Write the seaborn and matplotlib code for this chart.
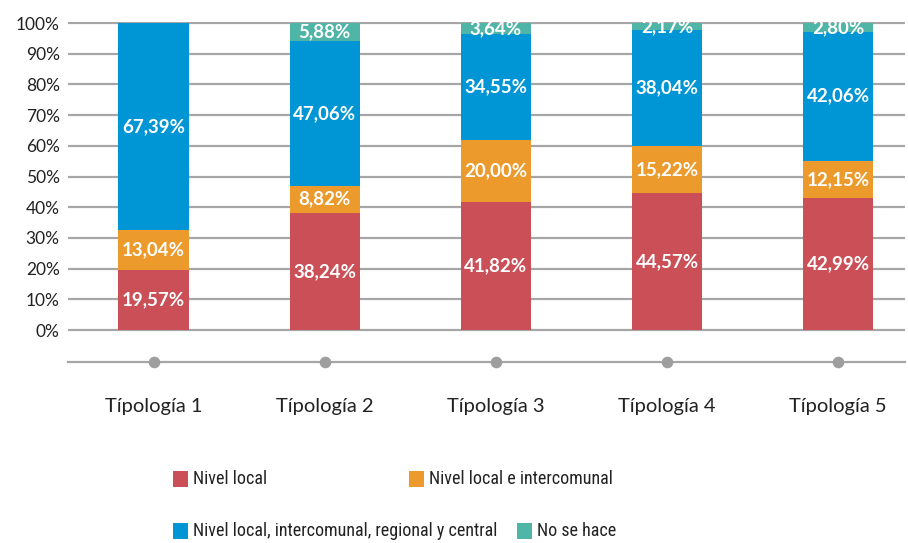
import numpy as np
import pandas as pd
import matplotlib
matplotlib.use("Agg")
import matplotlib.pyplot as plt
from matplotlib.patches import Rectangle
from matplotlib import font_manager
import seaborn as sns

# Data
categories = ["Típología 1", "Típología 2", "Típología 3", "Típología 4", "Típología 5"]
series_names = [
    "Nivel local",
    "Nivel local e intercomunal",
    "Nivel local, intercomunal, regional y central",
    "No se hace",
]
nivel_local = [19.57, 38.24, 41.82, 44.57, 42.99]
nivel_intercomunal = [13.04, 8.82, 20.00, 15.22, 12.15]
nivel_central = [67.39, 47.06, 34.55, 38.04, 42.06]
no_se_hace = [0.00, 5.88, 3.64, 2.17, 2.80]
y_ticks = [0, 10, 20, 30, 40, 50, 60, 70, 80, 90, 100]

series_values = [nivel_local, nivel_intercomunal, nivel_central, no_se_hace]
colors = ["#CB4F57", "#EC9A2B", "#0096D6", "#4EB5A7"]

sns.set_theme(style="white")
plt.rcParams["font.family"] = ["Lato", "DejaVu Sans"]

# A narrow face for the legend when one is available
installed = {f.name for f in font_manager.fontManager.ttflist}
legend_family, legend_size = ["Lato"], 12.5
for cand in ["Liberation Sans Narrow", "Roboto Condensed", "Open Sans Condensed"]:
    if cand in installed:
        legend_family, legend_size = [cand, "Lato"], 13
        break

W, H = 908, 543
fig = plt.figure(figsize=(W / 100, H / 100), dpi=100)
ax = fig.add_axes([68 / W, (H - 362) / H, (905 - 68) / W, (362 - 21.5) / H])

grid_color = "#A6A6A6"
text_color = "#222222"

df = pd.DataFrame({"categoria": categories})
bottom = np.zeros(len(categories))
for name, vals, col in zip(series_names, series_values, colors):
    df["valor"] = vals
    sns.barplot(data=df, x="categoria", y="valor", color=col, saturation=1,
                width=0.41, bottom=bottom.copy(), errorbar=None, ax=ax,
                zorder=3, linewidth=0)
    cont = ax.containers[-1]
    labels = [f"{v:.2f}".replace(".", ",") + "%" if v > 0 else "" for v in vals]
    ax.bar_label(cont, labels=labels, label_type="center", color="white",
                 fontsize=13.5, fontweight="bold", zorder=4)
    bottom += np.array(vals)

ax.set_ylim(-10.4, 100.5)
ax.set_xlim(-0.5, 4.39)

# Horizontal gridlines at each tick
ax.set_yticks(y_ticks)
ax.set_yticklabels([f"{t}%" for t in y_ticks])
ax.yaxis.grid(True, color=grid_color, linewidth=1.6, zorder=0)
ax.xaxis.grid(False)
ax.set_axisbelow(True)

for s in ["top", "right", "left"]:
    ax.spines[s].set_visible(False)
ax.spines["bottom"].set_color(grid_color)
ax.spines["bottom"].set_linewidth(1.6)

# Dots on the category axis
ax.scatter(np.arange(len(categories)), [-10.4] * len(categories), s=70,
           color="#9E9E9E", zorder=5, clip_on=False, linewidths=0)

ax.tick_params(axis="y", length=0, pad=6, labelsize=12.5, labelcolor=text_color)
ax.tick_params(axis="x", length=0, pad=26, labelsize=14.5, labelcolor=text_color)
ax.set_xlabel("")
ax.set_ylabel("")

# Legend in two rows; the second entry of a row follows the first one's text
renderer = fig.canvas.get_renderer()
rows = [(479, [0, 1], 409), (531, [2, 3], 516)]
for py, idxs, second_x in rows:
    px = 173
    for k, i in enumerate(idxs):
        if k == 1:
            px = max(second_x, px)
        fig.add_artist(Rectangle((px / W, (H - py - 7.5) / H), 15 / W, 16 / H,
                                 transform=fig.transFigure, color=colors[i], lw=0))
        t = fig.text((px + 20) / W, (H - py) / H, series_names[i], va="center",
                     ha="left", fontsize=legend_size, color=text_color,
                     family=legend_family)
        bb = t.get_window_extent(renderer=renderer)
        px = bb.x1 + 20

fig.savefig("out.png", dpi=100)
